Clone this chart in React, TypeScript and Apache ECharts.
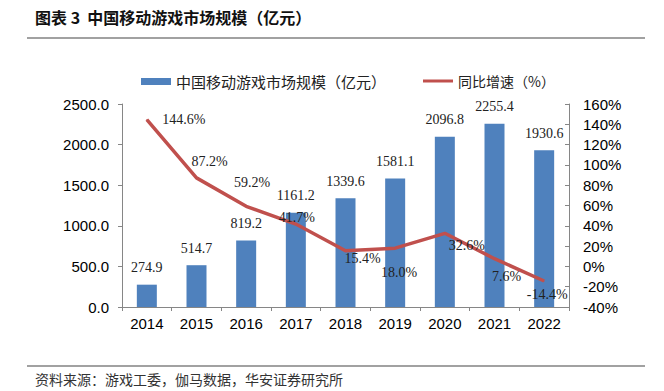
import React, { useEffect, useRef } from "react";
import * as echarts from "echarts";

const categories = ["2014", "2015", "2016", "2017", "2018", "2019", "2020", "2021", "2022"];
const marketSize = [274.9, 514.7, 819.2, 1161.2, 1339.6, 1581.1, 2096.8, 2255.4, 1930.6];
const growth = [144.6, 87.2, 59.2, 41.7, 15.4, 18.0, 32.6, 7.6, -14.4];
const growthLabelOffsets: [number, number][] = [
  [37, 0], [13, -16], [6, -24], [1, -7], [17, 8], [4, 24], [22, 12], [12, 18], [3, 13],
];
const titleText = "图表 3  中国移动游戏市场规模（亿元）";
const sourceText = "资料来源：游戏工委，伽马数据，华安证券研究所";
const barName = "中国移动游戏市场规模（亿元）";
const lineName = "同比增速（%）";

export default function App() {
  const ref = useRef<HTMLDivElement>(null);
  useEffect(() => {
    if (!ref.current) return;
    const chart = echarts.init(ref.current, null, { renderer: "svg" });
    const serif = "'Liberation Serif', 'Times New Roman', serif";
    const sans = "'Liberation Sans', Arial, sans-serif";
    const cjk = "'Noto Sans CJK SC', sans-serif";
    chart.setOption({
      animation: false,
      backgroundColor: "#ffffff",
      textStyle: { fontFamily: sans },
      legend: [
        {
          data: [{ name: barName, icon: "rect" }],
          icon: "rect",
          left: 136,
          top: 69,
          itemWidth: 30,
          itemHeight: 7,
          itemGap: 5,
          textStyle: { fontFamily: cjk, fontSize: 15, color: "#222" },
        },
        {
          data: [{ name: lineName, icon: "rect" }],
          icon: "rect",
          left: 418,
          top: 69,
          itemWidth: 30,
          itemHeight: 3,
          itemStyle: { color: "#C0504D", borderWidth: 0 },
          textStyle: { fontFamily: cjk, fontSize: 14, color: "#222" },
        },
      ],
      grid: { left: 122, right: 95, top: 104, bottom: 84, containLabel: false },
      xAxis: {
        type: "category",
        data: categories,
        axisLine: { lineStyle: { color: "#868686", width: 1 } },
        axisTick: { show: true, length: 4, alignWithLabel: false, lineStyle: { color: "#868686" } },
        axisLabel: { fontFamily: sans, fontSize: 15, color: "#000", margin: 9 },
      },
      yAxis: [
        {
          type: "value",
          min: 0,
          max: 2500,
          interval: 500,
          position: "left",
          axisLine: { show: true, lineStyle: { color: "#868686" } },
          axisTick: { show: true, length: 4, lineStyle: { color: "#868686" } },
          splitLine: { show: false },
          axisLabel: {
            fontFamily: sans,
            fontSize: 15,
            color: "#000",
            margin: 13,
            formatter: (v: number) => v.toFixed(1),
          },
        },
        {
          type: "value",
          min: -40,
          max: 160,
          interval: 20,
          position: "right",
          axisLine: { show: true, lineStyle: { color: "#868686" } },
          axisTick: { show: true, inside: true, length: 4, lineStyle: { color: "#868686" } },
          splitLine: { show: false },
          axisLabel: {
            fontFamily: sans,
            fontSize: 15,
            color: "#000",
            margin: 14,
            formatter: (v: number) => v + "%",
          },
        },
      ],
      series: [
        {
          name: barName,
          type: "bar",
          yAxisIndex: 0,
          data: marketSize,
          barWidth: 20,
          itemStyle: { color: "#4F81BD" },
          label: {
            show: true,
            position: "top",
            distance: 10,
            fontFamily: serif,
            fontSize: 14,
            color: "#222",
            formatter: (p: any) => p.value.toFixed(1),
          },
        },
        {
          name: lineName,
          type: "line",
          yAxisIndex: 1,
          data: growth.map((v, i) => ({
            value: v,
            label: { offset: growthLabelOffsets[i] },
          })),
          symbol: "circle",
          symbolSize: 1,
          showSymbol: true,
          lineStyle: { color: "#C0504D", width: 3.5 },
          itemStyle: { color: "#C0504D" },
          z: 3,
          label: {
            show: true,
            position: "inside",
            align: "center",
            verticalAlign: "middle",
            fontFamily: serif,
            fontSize: 14,
            color: "#222",
            formatter: (p: any) => p.value.toFixed(1) + "%",
          },
        },
      ],
      graphic: [
        {
          type: "text",
          left: 35,
          top: 9,
          style: { text: titleText, font: "bold 16px 'Noto Sans CJK SC', sans-serif", fill: "#111" },
        },
        {
          type: "line",
          shape: { x1: 27, y1: 38, x2: 645, y2: 38 },
          style: { stroke: "#444", lineWidth: 1.2 },
        },
        {
          type: "line",
          shape: { x1: 27, y1: 366, x2: 645, y2: 366 },
          style: { stroke: "#444", lineWidth: 1.2 },
        },
        {
          type: "text",
          left: 35,
          top: 372,
          style: { text: sourceText, font: "14px 'Noto Sans CJK SC', sans-serif", fill: "#333" },
        },
      ],
    });
    return () => chart.dispose();
  }, []);
  return <div ref={ref} style={{ width: 664, height: 391, position: "absolute", left: 0, top: 0 }} />;
}
